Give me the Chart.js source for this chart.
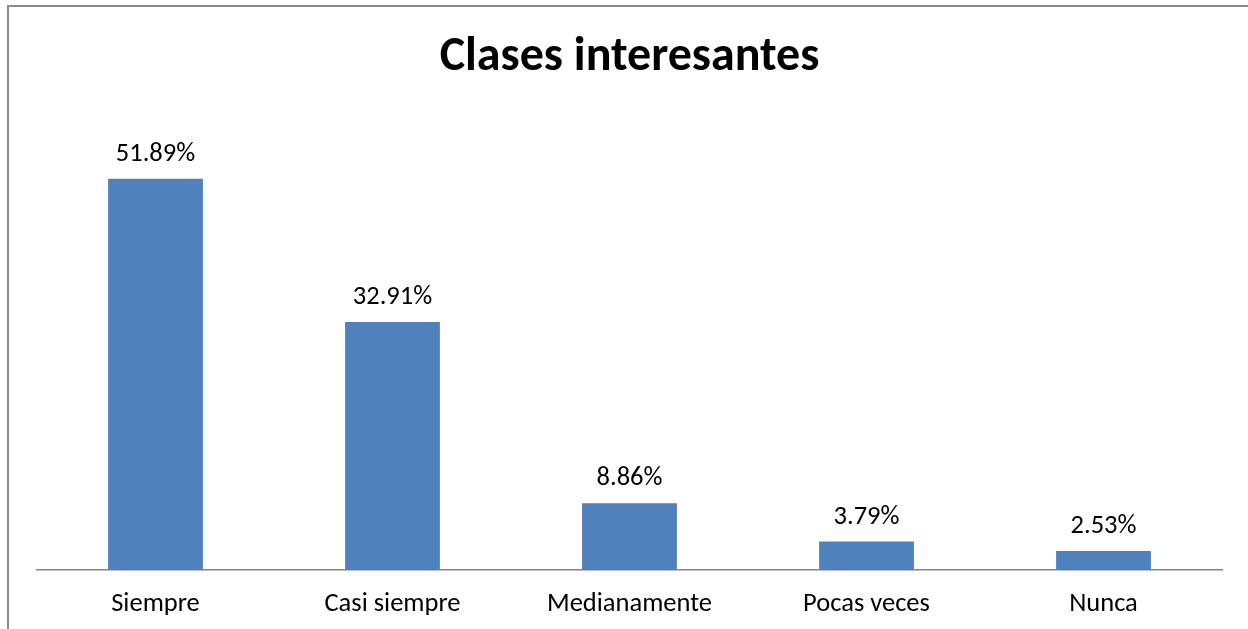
<!DOCTYPE html>
<html>
<head>
<meta charset="utf-8">
<script src="https://cdn.jsdelivr.net/npm/chart.js@4.4.1/dist/chart.umd.min.js"></script>
<style>
  html, body { margin: 0; padding: 0; background: #fff; }
  #wrap { position: relative; width: 1248px; height: 629px; overflow: hidden; }
  /* chart frame, cropped on the right and bottom like the source */
  #frame { position: absolute; left: 7px; top: 5px; width: 1300px; height: 700px;
           border-left: 2px solid #8c8c8c; border-top: 2px solid #8c8c8c; box-sizing: border-box; }
  canvas { position: absolute; left: 0; top: 0; }
</style>
</head>
<body>
<div id="wrap">
  <div id="frame"></div>
  <canvas id="chart" width="1248" height="669"></canvas>
</div>
<script>
// ── data ──────────────────────────────────────────────
const CATEGORIES = ["Siempre", "Casi siempre", "Medianamente", "Pocas veces", "Nunca"];
const PERCENTS = [51.89, 32.91, 8.86, 3.79, 2.53];
const Y_MAX = 60;

const FONT = "Carlito, 'Open Sans', sans-serif";

// value labels above each bar
const barLabels = {
  id: "barLabels",
  afterDatasetsDraw(chart) {
    const { ctx } = chart;
    const meta = chart.getDatasetMeta(0);
    ctx.save();
    ctx.font = "26.5px " + FONT;
    ctx.fillStyle = "#000";
    ctx.textAlign = "center";
    ctx.textBaseline = "alphabetic";
    meta.data.forEach((bar, i) => {
      ctx.fillText(PERCENTS[i].toFixed(2) + "%", bar.x, bar.y - 18);
    });
    ctx.restore();
  },
};

new Chart(document.getElementById("chart"), {
  type: "bar",
  data: {
    labels: CATEGORIES,
    datasets: [{
      data: PERCENTS,
      backgroundColor: "#4f81bd",
      borderWidth: 0,
      barPercentage: 0.4,
      categoryPercentage: 1,
    }],
  },
  options: {
    responsive: false,
    animation: false,
    layout: { padding: { left: 37, right: 26, top: 29, bottom: 31 } },
    plugins: {
      legend: { display: false },
      tooltip: { enabled: false },
      title: {
        display: true,
        text: "Clases interesantes",
        color: "#000",
        font: { family: FONT, size: 48, weight: "bold" },
        padding: { top: 0, bottom: 31 },
      },
    },
    scales: {
      x: {
        grid: { display: false, drawTicks: false },
        border: { display: true, color: "#868686", width: 1.5 },
        ticks: { color: "#000", font: { family: FONT, size: 26.5 }, padding: 18 },
      },
      y: { display: false, min: 0, max: Y_MAX },
    },
  },
  plugins: [barLabels],
});
</script>
</body>
</html>
